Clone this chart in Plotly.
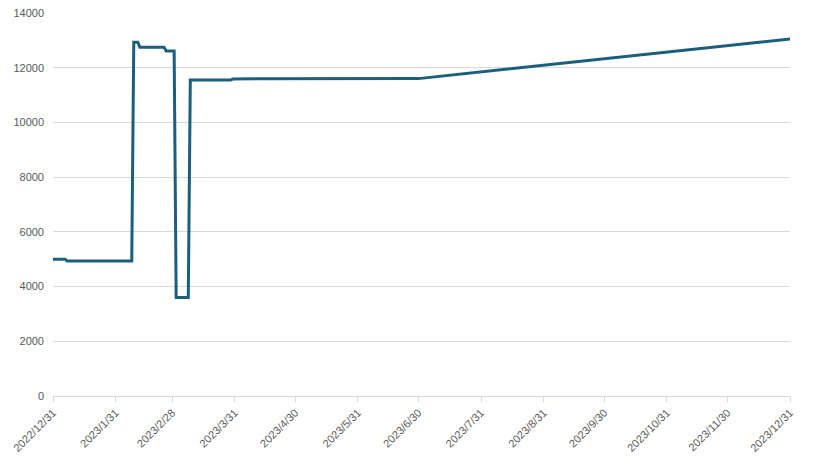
import plotly.graph_objects as go

dates = ["2022-12-31", "2023-01-06", "2023-01-07", "2023-02-08", "2023-02-09",
         "2023-02-11", "2023-02-12", "2023-02-24", "2023-02-25", "2023-03-01",
         "2023-03-02", "2023-03-08", "2023-03-09", "2023-03-29", "2023-03-30",
         "2023-06-30", "2023-12-31"]
values = [5000, 5000, 4930, 4930, 12930,
          12930, 12750, 12750, 12610, 12610,
          3600, 3600, 11550, 11550, 11590,
          11600, 13050]

tick_dates = ["2022-12-31", "2023-01-31", "2023-02-28", "2023-03-31", "2023-04-30",
              "2023-05-31", "2023-06-30", "2023-07-31", "2023-08-31", "2023-09-30",
              "2023-10-31", "2023-11-30", "2023-12-31"]
tick_labels = ["2022/12/31", "2023/1/31", "2023/2/28", "2023/3/31", "2023/4/30",
               "2023/5/31", "2023/6/30", "2023/7/31", "2023/8/31", "2023/9/30",
               "2023/10/31", "2023/11/30", "2023/12/31"]

fig = go.Figure(go.Scatter(
    x=dates, y=values, mode="lines",
    line=dict(color="#1b5e7e", width=3),
    hoverinfo="x+y"))

fig.update_layout(
    width=797, height=446,
    margin=dict(l=45, r=15, t=4, b=58),
    paper_bgcolor="white", plot_bgcolor="white",
    font=dict(family="Liberation Sans, Arial, sans-serif", size=11, color="#595959"),
    showlegend=False,
)
fig.update_xaxes(
    type="date", range=["2022-12-31", "2023-12-31"],
    tickmode="array", tickvals=tick_dates, ticktext=tick_labels,
    tickangle=-45, showgrid=False, automargin=False,
    showline=True, linecolor="#d9d9d9", linewidth=1,
    ticks="outside", ticklen=5, tickcolor="#d9d9d9",
)
fig.update_yaxes(
    range=[0, 14035], dtick=2000, tick0=0, tickformat="d",
    showgrid=True, gridcolor="#d9d9d9", gridwidth=1, automargin=False,
    ticklabeloverflow="allow",
    zeroline=False, showline=False, ticks="", ticklabelstandoff=8,
)

fig.write_html("out.html")
